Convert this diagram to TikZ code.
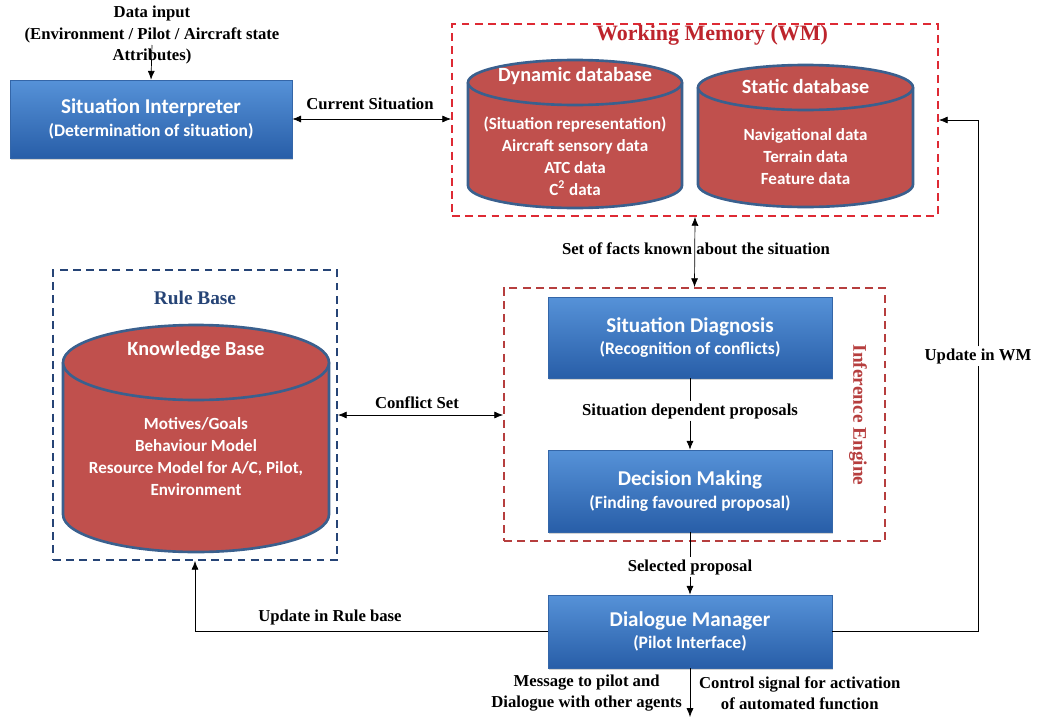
\documentclass[tikz,border=0pt]{standalone}
\usepackage{fontspec}
\setmainfont{Liberation Serif}
\newfontfamily\boxfont{Carlito}
\usetikzlibrary{arrows.meta,shadows}

\definecolor{boxtop}{RGB}{86,146,216}
\definecolor{boxbot}{RGB}{40,94,168}
\definecolor{boxedge}{RGB}{52,102,168}
\definecolor{dbred}{RGB}{192,80,77}
\definecolor{dbedge}{RGB}{58,96,142}
\definecolor{wmred}{RGB}{222,42,52}
\definecolor{iered}{RGB}{182,62,62}
\definecolor{rbblue}{RGB}{38,68,118}

% database drum: centre x, top y, bottom y, half width, half height of lid (px)
\newcommand{\drum}[5]{%
  \fill[dbred] ({#1-#4},{#2+#5}) rectangle ({#1+#4},{#3-#5});
  \fill[dbred] (#1,{#3-#5}) ellipse [x radius=#4*0.02cm, y radius=#5*0.02cm];
  \draw[dbline] ({#1-#4},{#2+#5}) -- ({#1-#4},{#3-#5})
    arc [start angle=180, end angle=360, x radius=#4*0.02cm, y radius=#5*0.02cm]
    -- ({#1+#4},{#2+#5});
  \filldraw[dbline, fill=dbred] (#1,{#2+#5}) ellipse [x radius=#4*0.02cm, y radius=#5*0.02cm];
}

\tikzset{
  procbox/.style={rectangle, draw=boxedge, top color=boxtop, bottom color=boxbot,
    text=white, align=center, inner sep=2pt,
    drop shadow={opacity=0.35, shadow xshift=0.8pt, shadow yshift=-1.4pt}},
  dbline/.style={draw=dbedge, line width=1.5pt},
  dbtitle/.style={text=white, font=\boxfont\bfseries\fontsize{11.5}{14}\selectfont},
  dbtext/.style={text=white, align=center, font=\boxfont\bfseries\fontsize{9.7}{12.5}\selectfont},
  group/.style={rectangle, line width=1.1pt, dash pattern=on 4.5pt off 3pt},
  lbl/.style={align=center, inner sep=1pt, font=\bfseries\fontsize{9.5}{12.2}\selectfont},
  >={Latex[length=5pt,width=4pt]}
}

\newcommand{\boxlines}[2]{{\fontsize{12}{14}\selectfont #1}\\[1pt]{\fontsize{10}{12}\selectfont #2}}

\begin{document}
\begin{tikzpicture}[x=0.02cm, y=-0.02cm, font=\boxfont\bfseries]
\useasboundingbox (0,0) rectangle (1042,717);

% groups
\node[group, draw=wmred, minimum width=9.72cm, minimum height=3.84cm] (wm) at (695,120) {};
\node[group, draw=rbblue, minimum width=5.68cm, minimum height=5.8cm] (rulebase) at (195,415) {};
\node[group, draw=iered, minimum width=7.62cm, minimum height=5.06cm] (infer) at (694.5,414.5) {};

\node[text=wmred!85!black, font=\bfseries\fontsize{12.5}{14}\selectfont] (wmtitle) at (712,35) {Working Memory (WM)};
\node[text=rbblue, font=\bfseries\fontsize{11}{13}\selectfont] (rbtitle) at (195,298) {Rule Base};
\node[text=iered, rotate=-90, font=\bfseries\fontsize{11}{13}\selectfont] (ietitle) at (858,415) {Inference Engine};

% databases
\drum{575}{60}{208}{107}{22.5}
\drum{805.5}{65}{207}{107.5}{22.5}
\drum{196}{325}{552}{133}{37.5}

\node[dbtitle] (dyn) at (575,76) {Dynamic database};
\node[dbtext] (dyntext) at (575,156) {(Situation representation)\\Aircraft sensory data\\ATC data\\C\textsuperscript{2} data};
\node[dbtitle] (stat) at (805.5,86) {Static database};
\node[dbtext] (stattext) at (805.5,157) {Navigational data\\Terrain data\\Feature data};
\node[dbtitle] (kb) at (196,350) {Knowledge Base};
\node[dbtext] (kbtext) at (196,457) {Motives/Goals\\Behaviour Model\\Resource Model for A/C, Pilot,\\Environment};

% process boxes
\node[procbox, minimum width=5.64cm, minimum height=1.56cm] (interp) at (151,119) {\boxlines{Situation Interpreter}{(Determination of situation)}};
\node[procbox, minimum width=5.68cm, minimum height=1.62cm] (diag) at (690,337.5) {\boxlines{Situation Diagnosis}{(Recognition of conflicts)}};
\node[procbox, minimum width=5.68cm, minimum height=1.64cm] (decide) at (690,491) {\boxlines{Decision Making}{(Finding favoured proposal)}};
\node[procbox, minimum width=5.68cm, minimum height=1.46cm] (dialog) at (690,631.5) {\boxlines{Dialogue Manager}{(Pilot Interface)}};

% labels
\node[lbl] (datain) at (152,35) {Data input\\(Environment / Pilot / Aircraft state\\Attributes)};
\node[lbl] (cur) at (370,104) {Current Situation};
\node[lbl] (facts) at (696,249) {Set of facts known about the situation};
\node[lbl] (conflict) at (417,403) {Conflict Set};
\node[lbl] (sdp) at (690,411) {Situation dependent proposals};
\node[lbl] (selp) at (690,567) {Selected proposal};
\node[lbl] (upwm) at (978,356) {Update in WM};
\node[lbl] (uprb) at (330,617) {Update in Rule base};
\node[lbl, anchor=east] (msg) at (684,693) {Message to pilot and\\Dialogue with other agents};
\node[lbl, anchor=west] (ctrl) at (697,693) {Control signal for activation\\of automated function};

\coordinate (inp) at (152,45);
\coordinate (out) at (690,717);

% connectors
\draw[->] (inp) -- (interp.north);
\draw[<->] (interp.east) -- (interp.east -| wm.west);
\draw[<->] (wm.south) -- (infer.north);
\draw[<->] (rulebase.east) -- (rulebase.east -| infer.west);
\draw (diag) -- (sdp);
\draw[->] (sdp) -- (decide);
\draw (decide) -- (selp);
\draw[->] (selp) -- (dialog);
\draw[->] (dialog.south) -- (out);
\draw[->] (dialog.west) -| (rulebase.south);
\draw (dialog.east) -| (upwm.south);
\draw[->] (upwm.north) |- (wm.east);

\end{tikzpicture}
\end{document}
